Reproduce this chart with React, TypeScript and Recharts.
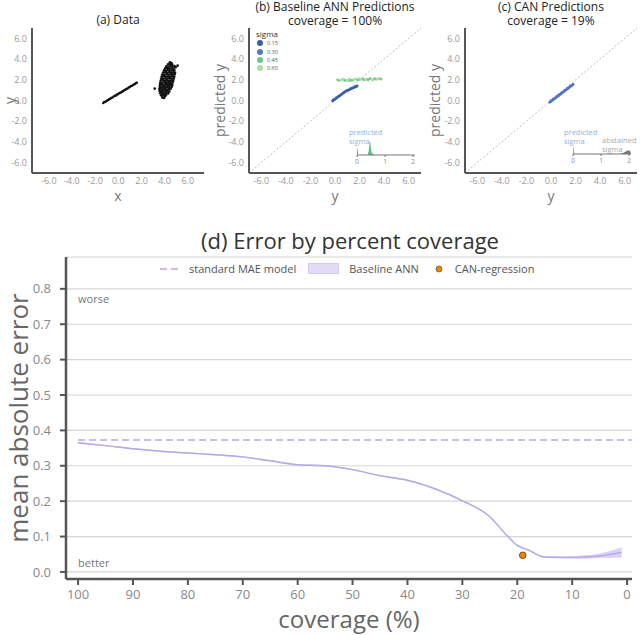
import React from 'react'
import {
  ScatterChart,
  Scatter,
  ComposedChart,
  Area,
  Line,
  XAxis,
  YAxis,
  CartesianGrid,
  ReferenceLine,
  ReferenceDot,
  Legend,
  Label,
} from 'recharts'

const FONT = '"Open Sans", sans-serif'

// (a) data: the narrow linear part and the noisy blob
const lineX = [-1.3, -1.2, -1.1, -1.0, -0.9, -0.8, -0.7, -0.6, -0.5, -0.4, -0.3, -0.2, -0.1, 0.0, 0.1, 0.2, 0.3, 0.4, 0.5, 0.6, 0.7, 0.8, 0.9, 1.0, 1.1, 1.2, 1.3, 1.4, 1.5, 1.6]
const lineY = [-0.24, -0.15, -0.11, -0.02, 0.03, 0.12, 0.16, 0.25, 0.29, 0.38, 0.45, 0.49, 0.58, 0.63, 0.72, 0.76, 0.85, 0.9, 0.99, 1.03, 1.12, 1.17, 1.25, 1.3, 1.39, 1.43, 1.52, 1.57, 1.66, 1.72]
const blobX = [
  3.8, 3.95, 4.02,
  3.7, 3.85, 4.0, 4.12,
  3.62, 3.78, 3.95, 4.12, 4.3,
  3.58, 3.74, 3.9, 4.06, 4.22, 4.4,
  3.55, 3.72, 3.88, 4.04, 4.2, 4.36, 4.52,
  3.58, 3.75, 3.92, 4.08, 4.25, 4.42, 4.6,
  3.6, 3.78, 3.95, 4.12, 4.3, 4.47, 4.65,
  3.62, 3.8, 3.98, 4.15, 4.32, 4.5, 4.68,
  3.66, 3.84, 4.02, 4.2, 4.38, 4.56, 4.74,
  3.7, 3.88, 4.06, 4.24, 4.42, 4.6, 4.78,
  3.75, 3.93, 4.11, 4.29, 4.47, 4.65, 4.83,
  3.8, 3.98, 4.16, 4.34, 4.52, 4.7, 4.86,
  3.88, 4.05, 4.22, 4.4, 4.58, 4.75, 4.9,
  3.95, 4.12, 4.3, 4.48, 4.66, 4.84,
  4.05, 4.22, 4.4, 4.58, 4.76, 4.95,
  4.15, 4.32, 4.5, 4.68, 4.85,
  4.3, 4.48, 4.65,
  4.45, 4.6,
  3.15, 5.12,
]
const blobY = [
  0.3, 0.25, 0.4,
  0.5, 0.55, 0.48, 0.52,
  0.7, 0.72, 0.66, 0.74, 0.68,
  0.9, 0.93, 0.87, 0.92, 0.95, 0.88,
  1.1, 1.12, 1.08, 1.14, 1.06, 1.1, 1.13,
  1.3, 1.28, 1.33, 1.27, 1.32, 1.29, 1.31,
  1.5, 1.52, 1.47, 1.53, 1.49, 1.51, 1.48,
  1.7, 1.68, 1.73, 1.69, 1.72, 1.67, 1.71,
  1.9, 1.93, 1.88, 1.92, 1.87, 1.91, 1.89,
  2.1, 2.08, 2.12, 2.07, 2.13, 2.09, 2.11,
  2.3, 2.33, 2.28, 2.31, 2.27, 2.32, 2.29,
  2.5, 2.48, 2.53, 2.47, 2.52, 2.49, 2.51,
  2.7, 2.73, 2.68, 2.72, 2.69, 2.71, 2.67,
  2.9, 2.88, 2.93, 2.89, 2.92, 2.9,
  3.1, 3.13, 3.08, 3.12, 3.09, 3.2,
  3.3, 3.28, 3.33, 3.29, 3.32,
  3.5, 3.53, 3.47,
  3.68, 3.62,
  1.15, 3.36,
]

// (b) baseline ANN predictions, split by predicted sigma
const sigmaLevels = ['0.15', '0.30', '0.45', '0.60']
const sigmaColors = ['#3d5ca6', '#4f7cc0', '#6cc48f', '#a9dcab']
const b15True = [-0.2, -0.12, -0.05, 0.05, 0.15, 0.25, 0.35, 0.45, 0.55, 0.65, 0.75, 0.85, 0.95, 1.05, 1.15, 1.25, 1.35, 1.45, 1.55, 1.65, 1.75, 1.8]
const b15Pred = [-0.03, 0.05, 0.09, 0.19, 0.26, 0.37, 0.43, 0.55, 0.6, 0.72, 0.78, 0.89, 0.92, 1.0, 1.03, 1.11, 1.14, 1.22, 1.25, 1.33, 1.36, 1.41]
const b30True = [-0.15, 0.1, 0.4, 0.7, 1.0, 1.3, 1.6]
const b30Pred = [0.0, 0.24, 0.47, 0.77, 0.94, 1.13, 1.3]
const b45True = [0.25, 0.8, 1.35, 1.85, 2.3, 2.8, 3.25, 3.7, 1.25, 2.7]
const b45Pred = [1.95, 1.93, 1.97, 1.99, 2.01, 2.1, 2.09, 2.08, 1.9, 1.98]
const b60True = [0.2, 0.4, 0.5, 0.7, 0.95, 1.1, 1.2, 1.45, 1.6, 1.7, 2.0, 2.1, 2.2, 2.45, 2.55, 2.65, 2.9, 3.0, 3.1, 3.4, 3.5, 3.6, 3.75, 0.55, 0.65, 1.05, 1.55, 1.95, 2.35, 3.2, 3.35]
const b60Pred = [2.02, 1.92, 2.0, 2.06, 1.96, 2.02, 2.08, 1.94, 2.05, 2.1, 1.98, 2.08, 2.12, 1.99, 2.06, 2.05, 2.14, 2.03, 1.97, 2.05, 2.12, 2.13, 2.06, 1.98, 2.03, 1.88, 2.0, 2.12, 2.08, 2.15, 2.02]

// (c) CAN predictions on the covered samples
const cTrue = [-0.1, -0.02, 0.06, 0.14, 0.22, 0.3, 0.38, 0.46, 0.54, 0.62, 0.7, 0.78, 0.86, 0.94, 1.02, 1.1, 1.18, 1.26, 1.34, 1.42, 1.5, 1.58, 1.66, 1.74, 1.8, 0.0, 0.18, 0.42, 0.66, 0.9, 1.14, 1.38, 1.62]
const cPred = [-0.17, -0.09, -0.03, 0.06, 0.12, 0.2, 0.25, 0.35, 0.41, 0.47, 0.56, 0.62, 0.7, 0.78, 0.84, 0.93, 0.98, 1.06, 1.14, 1.2, 1.29, 1.35, 1.43, 1.49, 1.55, -0.03, 0.14, 0.34, 0.55, 0.76, 0.98, 1.19, 1.41]

// inset histograms of sigma
const sigmaGridB = [0, 0.012, 0.03, 0.38, 0.42, 0.45, 0.47, 0.5, 0.53, 0.58, 0.65, 2.07]
const predSigmaB = [0.45, 0.45, 0, 0, 0, 0, 0, 0, 0, 0, 0, 0]
const greenSigmaB = [0, 0, 0, 0, 0.3, 0.85, 0.9, 0.4, 0.15, 0.05, 0, 0]
const sigmaGridC = [0, 0.012, 0.03, 1.7, 1.8, 1.9, 1.97, 2.03, 2.07]
const predSigmaC = [0.45, 0.45, 0, 0, 0, 0, 0, 0, 0]
const abstSigmaC = [0, 0, 0, 0, 0.08, 0.18, 0.25, 0.22, 0]

const axisTicks = [-6, -4, -2, 0, 2, 4, 6]
const sigmaTicks = [0, 1, 2]

// (d) error by coverage
const coverage = [100, 95, 90, 85, 80, 75, 70, 65, 60, 55, 50, 45, 40, 35, 30, 25, 22, 20, 18, 15, 12, 10, 8, 5, 3, 1]
const annMean = [0.365, 0.357, 0.348, 0.341, 0.336, 0.331, 0.325, 0.314, 0.303, 0.3, 0.289, 0.272, 0.259, 0.235, 0.201, 0.156, 0.105, 0.075, 0.062, 0.042, 0.041, 0.041, 0.042, 0.045, 0.05, 0.055]
const annLow = [0.363, 0.355, 0.346, 0.339, 0.334, 0.329, 0.323, 0.312, 0.301, 0.298, 0.287, 0.27, 0.257, 0.233, 0.199, 0.154, 0.103, 0.073, 0.06, 0.04, 0.038, 0.037, 0.037, 0.039, 0.04, 0.04]
const annHigh = [0.367, 0.359, 0.35, 0.343, 0.338, 0.333, 0.327, 0.316, 0.305, 0.302, 0.291, 0.274, 0.261, 0.237, 0.203, 0.158, 0.107, 0.077, 0.064, 0.044, 0.044, 0.045, 0.047, 0.052, 0.06, 0.07]
const standardMae = 0.373
const canCoverage = [19]
const canMae = [0.047]
const coverageTicks = [100, 90, 80, 70, 60, 50, 40, 30, 20, 10, 0]
const maeTicks = [0, 0.1, 0.2, 0.3, 0.4, 0.5, 0.6, 0.7, 0.8]

const pts = (xs: number[], ys: number[]) => xs.map((x, i) => ({ x, y: ys[i] }))

const dot = (r: number, fill: string, stroke = 'none', sw = 0) => (p: any) => (
  <circle cx={p.cx} cy={p.cy} r={r} fill={fill} stroke={stroke} strokeWidth={sw} />
)

const smallTick = { fill: '#999', fontSize: 9 }
const darkAxis = { stroke: '#555', strokeWidth: 2 }

function Panel({
  left,
  width,
  yAxisWidth,
  xDomain,
  xLabel,
  yLabel,
  yLabelOffset,
  yLabelSize,
  children,
}: any) {
  return (
    <div style={{ position: 'absolute', left, top: 0 }}>
      <ScatterChart width={width} height={205} margin={{ top: 28, right: width - yAxisWidth - 172, bottom: 0, left: 0 }}>
        <XAxis
          type="number"
          dataKey="x"
          domain={xDomain}
          ticks={axisTicks}
          tickFormatter={(v: number) => v.toFixed(1)}
          allowDataOverflow
          height={32}
          axisLine={darkAxis}
          tickLine={false}
          tickSize={3}
          tick={smallTick}
        >
          <Label value={xLabel} position="insideBottom" offset={4} style={{ fill: '#777', fontSize: 14 }} />
        </XAxis>
        <YAxis
          type="number"
          dataKey="y"
          domain={[-7, 7]}
          ticks={axisTicks}
          tickFormatter={(v: number) => v.toFixed(1)}
          allowDataOverflow
          width={yAxisWidth}
          axisLine={darkAxis}
          tickLine={false}
          tickSize={3}
          tick={smallTick}
        >
          <Label
            value={yLabel}
            angle={-90}
            position="insideLeft"
            offset={yLabelOffset}
            textAnchor="middle"
            style={{ fill: '#777', fontSize: yLabelSize }}
          />
        </YAxis>
        {children}
      </ScatterChart>
    </div>
  )
}

function SigmaInset({ left, top, grid, series }: any) {
  const data = grid.map((s: number, i: number) => {
    const row: any = { s }
    series.forEach((se: any) => (row[se.key] = se.values[i]))
    return row
  })
  return (
    <div style={{ position: 'absolute', left, top }}>
      <ComposedChart width={62} height={30} data={data} margin={{ top: 2, right: 2, bottom: 0, left: 2 }}>
        <XAxis
          type="number"
          dataKey="s"
          domain={[0, 2.07]}
          ticks={sigmaTicks}
          height={13}
          axisLine={{ stroke: '#777', strokeWidth: 1 }}
          tickLine={{ stroke: '#777' }}
          tickSize={2}
          tick={{ fill: '#888', fontSize: 6.5 }}
        />
        <YAxis hide domain={[0, 1]} />
        {series.map((se: any) => (
          <Area key={se.key} type="linear" dataKey={se.key} stroke="none" fill={se.color} fillOpacity={1} isAnimationActive={false} />
        ))}
      </ComposedChart>
    </div>
  )
}

const SigmaLegend = ({ payload }: any) => (
  <div style={{ fontFamily: FONT }}>
    <div style={{ fontSize: 8, color: '#333', lineHeight: '10px' }}>sigma</div>
    {(payload || []).map((p: any, i: number) => (
      <div key={i} style={{ display: 'flex', alignItems: 'center', height: 8.4 }}>
        <svg width={8} height={8}>
          <circle cx={4} cy={4} r={3} fill={sigmaColors[sigmaLevels.indexOf(p.value)] || p.color} />
        </svg>
        <span style={{ fontSize: 5.5, color: '#555', marginLeft: 3 }}>{p.value}</span>
      </div>
    ))}
  </div>
)

const ErrorLegend = () => (
  <div style={{ display: 'flex', alignItems: 'center', fontSize: 11, color: '#555', fontFamily: FONT, paddingLeft: 160 }}>
    <svg width={18} height={10}>
      <line x1={0} y1={5} x2={18} y2={5} stroke="#cbbde8" strokeWidth={2} strokeDasharray="7 4" />
    </svg>
    <span style={{ marginLeft: 11 }}>standard MAE model</span>
    <svg width={31} height={11} style={{ marginLeft: 12 }}>
      <rect x={0.5} y={0.5} width={30} height={10} fill="#e3dcf7" stroke="#d3c8f1" />
    </svg>
    <span style={{ marginLeft: 10 }}>Baseline ANN</span>
    <svg width={8} height={8} style={{ marginLeft: 16 }}>
      <circle cx={4} cy={4} r={3} fill="#e8870f" stroke="#6b3d05" strokeWidth={0.6} />
    </svg>
    <span style={{ marginLeft: 12 }}>CAN-regression</span>
  </div>
)

const titleStyle: React.CSSProperties = {
  position: 'absolute',
  textAlign: 'center',
  fontSize: 12,
  lineHeight: '14px',
  color: '#222',
  whiteSpace: 'nowrap',
}

export default function App() {
  const errorData = coverage.map((c, i) => ({
    coverage: c,
    mean: annMean[i],
    band: [annLow[i], annHigh[i]],
  }))
  const canData = canCoverage.map((c, i) => ({ coverage: c, mae: canMae[i] }))
  const diag = [{ x: -7, y: -7 }, { x: 7, y: 7 }] as any

  return (
    <div style={{ position: 'absolute', left: 0, top: 0, width: 640, height: 635, background: '#fff', fontFamily: FONT, overflow: 'hidden' }}>
      {/* (a) */}
      <div style={{ ...titleStyle, left: 68, width: 100, top: 13 }}>(a) Data</div>
      <Panel left={0} width={210} yAxisWidth={32} xDomain={[-7.45, 7.4]} xLabel="x" yLabel="y" yLabelOffset={10} yLabelSize={14}>
        <Scatter data={pts(lineX, lineY)} shape={dot(1.25, '#111')} isAnimationActive={false} />
        <Scatter data={pts(blobX, blobY)} shape={dot(1.35, '#111')} isAnimationActive={false} />
      </Panel>

      {/* (b) */}
      <div style={{ ...titleStyle, left: 235, width: 200, top: 0 }}>(b) Baseline ANN Predictions</div>
      <div style={{ ...titleStyle, left: 235, width: 200, top: 14 }}>coverage = 100%</div>
      <Panel left={205} width={220} yAxisWidth={44} xDomain={[-7, 7]} xLabel="y" yLabel="predicted y" yLabelOffset={15} yLabelSize={14}>
        <ReferenceLine segment={diag} stroke="#bbb" strokeDasharray="2 2" />
        <Scatter name={sigmaLevels[3]} data={pts(b60True, b60Pred)} fill={sigmaColors[3]} shape={dot(1.3, sigmaColors[3])} isAnimationActive={false} />
        <Scatter name={sigmaLevels[2]} data={pts(b45True, b45Pred)} fill={sigmaColors[2]} shape={dot(1.2, sigmaColors[2])} isAnimationActive={false} />
        <Scatter name={sigmaLevels[1]} data={pts(b30True, b30Pred)} fill={sigmaColors[1]} shape={dot(1.4, sigmaColors[1])} isAnimationActive={false} />
        <Scatter name={sigmaLevels[0]} data={pts(b15True, b15Pred)} fill={sigmaColors[0]} shape={dot(1.4, sigmaColors[0])} isAnimationActive={false} />
        <Legend
          layout="horizontal"
          verticalAlign="middle"
          content={(props: any) => <SigmaLegend payload={[...(props.payload || [])].sort((a: any, b: any) => (a.value > b.value ? 1 : -1))} />}
          wrapperStyle={{ top: 29, left: 51, width: 40 }}
        />
      </Panel>
      <div style={{ position: 'absolute', left: 349, top: 128, fontSize: 7.5, lineHeight: '8.5px', color: '#8ab4e0' }}>
        predicted
        <br />
        sigma
      </div>
      <SigmaInset
        left={355}
        top={138}
        grid={sigmaGridB}
        series={[
          { key: 'pred', values: predSigmaB, color: '#3d5ca6' },
          { key: 'green', values: greenSigmaB, color: '#5fbf86' },
        ]}
      />

      {/* (c) */}
      <div style={{ ...titleStyle, left: 451, width: 200, top: 0 }}>(c) CAN Predictions</div>
      <div style={{ ...titleStyle, left: 451, width: 200, top: 14 }}>coverage = 19%</div>
      <Panel left={420} width={220} yAxisWidth={45} xDomain={[-7, 7]} xLabel="y" yLabel="predicted y" yLabelOffset={15} yLabelSize={14}>
        <ReferenceLine segment={diag} stroke="#bbb" strokeDasharray="2 2" />
        <Scatter data={pts(cTrue, cPred)} shape={dot(1.4, '#4f78c0')} isAnimationActive={false} />
      </Panel>
      <div style={{ position: 'absolute', left: 564, top: 128, fontSize: 7.5, lineHeight: '8.5px', color: '#8ab4e0' }}>
        predicted
        <br />
        sigma
      </div>
      <div style={{ position: 'absolute', left: 602, top: 136, fontSize: 7.5, lineHeight: '8.5px', color: '#aaa' }}>
        abstained
        <br />
        sigma
      </div>
      <SigmaInset
        left={571}
        top={137}
        grid={sigmaGridC}
        series={[
          { key: 'pred', values: predSigmaC, color: '#4f78c0' },
          { key: 'abst', values: abstSigmaC, color: '#777' },
        ]}
      />

      {/* (d) */}
      <div style={{ position: 'absolute', left: 0, top: 225, width: 640 }}>
        <div style={{ position: 'absolute', left: 30, width: 640, top: 1, textAlign: 'center', fontSize: 22, lineHeight: '28px', color: '#333' }}>
          (d) Error by percent coverage
        </div>
        <ComposedChart width={640} height={410} data={errorData} margin={{ top: 32, right: 8, bottom: 0, left: 0 }}>
          <CartesianGrid vertical={false} stroke="#d6d6d6" strokeWidth={1.2} />
          <XAxis
            type="number"
            dataKey="coverage"
            domain={[-0.9, 102.2]}
            reversed
            ticks={coverageTicks}
            allowDataOverflow
            height={56}
            axisLine={{ stroke: '#555', strokeWidth: 2.5 }}
            tickLine={{ stroke: '#555', strokeWidth: 2 }}
            tickSize={6}
            tickMargin={5}
            tick={{ fill: '#888', fontSize: 13 }}
          >
            <Label value="coverage (%)" position="insideBottom" offset={7} style={{ fill: '#666', fontSize: 24 }} />
          </XAxis>
          <YAxis
            type="number"
            domain={[-0.02, 0.89]}
            ticks={maeTicks}
            tickFormatter={(v: number) => v.toFixed(1)}
            allowDataOverflow
            width={66}
            axisLine={{ stroke: '#555', strokeWidth: 2.5 }}
            tickLine={{ stroke: '#555', strokeWidth: 2 }}
            tickSize={6}
            tickMargin={9}
            tick={{ fill: '#888', fontSize: 13 }}
          >
            <Label value="mean absolute error" angle={-90} position="insideLeft" offset={19} textAnchor="middle" style={{ fill: '#666', fontSize: 26 }} />
          </YAxis>
          <ReferenceLine
            segment={[{ x: coverage[0], y: standardMae }, { x: -0.9, y: standardMae }] as any}
            stroke="#cbbde8"
            strokeWidth={2}
            strokeDasharray="7 4"
          />
          <Area type="monotone" dataKey="band" stroke="none" fill="#cfc4f3" fillOpacity={0.75} isAnimationActive={false} />
          <Line type="monotone" dataKey="mean" stroke="#b7a6ea" strokeWidth={1.4} dot={false} isAnimationActive={false} />
          <Scatter data={canData} dataKey="mae" shape={dot(3.3, '#e8870f', '#5a3406', 0.8)} isAnimationActive={false} />
          <ReferenceDot x={100} y={0.77} r={0} ifOverflow="visible" label={{ value: 'worse', position: 'right', offset: 0, fill: '#777', fontSize: 11 }} />
          <ReferenceDot x={100} y={0.025} r={0} ifOverflow="visible" label={{ value: 'better', position: 'right', offset: 0, fill: '#777', fontSize: 11 }} />
          <Legend layout="horizontal" verticalAlign="middle" content={() => <ErrorLegend />} wrapperStyle={{ top: 36, left: 0, width: 640 }} />
        </ComposedChart>
      </div>
    </div>
  )
}
